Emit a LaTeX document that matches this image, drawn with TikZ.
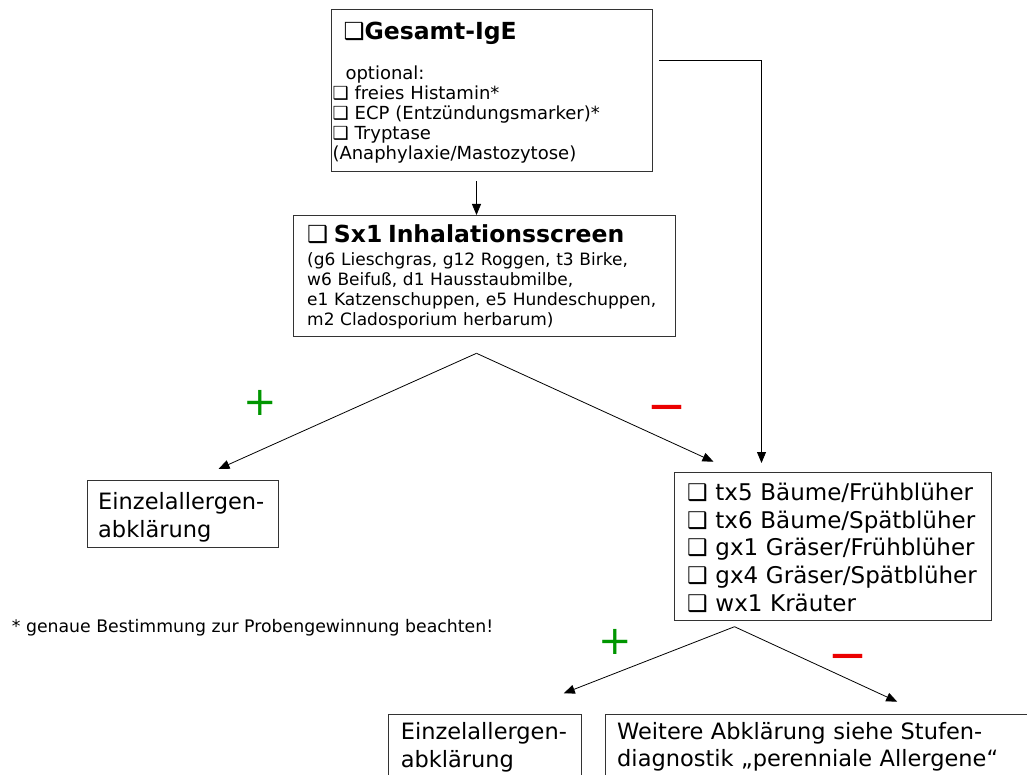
\documentclass[tikz,border=0pt]{standalone}
\usepackage{fontspec}
\setmainfont{DejaVu Sans}
\usepackage{tikz}
\usetikzlibrary{arrows.meta}
\usepackage{xcolor}
\definecolor{plusgreen}{RGB}{0,150,0}
\definecolor{minusred}{RGB}{235,0,0}

% struts that fix the space above the first and below the last line of a box
\newcommand{\boxtop}[1]{\rule{0pt}{#1pt}}
\newcommand{\boxbot}[1]{\rule[-#1pt]{0pt}{#1pt}}

\begin{document}
\begin{tikzpicture}[x=1pt, y=-1pt,
    flowbox/.style={draw=black!80, line width=1pt, rectangle, anchor=north west, align=left, inner ysep=0pt},
    small/.style={font=\fontsize{17}{20}\selectfont},
    large/.style={font=\fontsize{22.5}{27.7}\selectfont},
    arr/.style={-{Triangle[length=11pt,width=9pt]}, line width=0.8pt},
    plussign/.style={text=plusgreen, font=\fontsize{40}{40}\selectfont, inner sep=0pt},
    minussign/.style={text=minusred, font=\fontsize{33}{33}\selectfont\bfseries, inner sep=0pt, anchor=base}]

    \useasboundingbox (0,0) rectangle (1027,775);

    % Draw the boxes
    \node[flowbox, small, font=\fontsize{18}{20}\selectfont, inner xsep=1pt, text width=319pt] (gesamt) at (331,9.3) {%
        \boxtop{29.7}{\fontsize{23.5}{20}\selectfont\bfseries\hspace*{11pt}❑Gesamt-IgE}\\[20.3pt]
        \hspace*{13pt}optional:\\
        ❑ freies Histamin*\\
        ❑ ECP (Entzündungsmarker)*\\
        ❑ Tryptase\\
        (Anaphylaxie/Mastozytose)\boxbot{12}};

    \node[flowbox, small, inner xsep=13.4pt, text width=354.9pt] (sx) at (293.3,215) {%
        \boxtop{27.5}{\fontsize{23.5}{20}\selectfont\bfseries ❑ Sx1 Inhalationsscreen}\\[2.5pt]
        (g6 Lieschgras, g12 Roggen, t3 Birke,\\
        w6 Beifuß, d1 Hausstaubmilbe,\\
        e1 Katzenschuppen, e5 Hundeschuppen,\\
        m2 Cladosporium herbarum)\boxbot{10.7}};

    \node[flowbox, large, inner xsep=11pt, text width=169.3pt] (einzelA) at (86.7,480) {%
        \boxtop{29.3}Einzelallergen-\\
        abklärung\boxbot{10}};

    \node[flowbox, large, font=\fontsize{23}{27.7}\selectfont, inner xsep=12.7pt, text width=291.6pt] (tx) at (674,471.7) {%
        \boxtop{28.3}❑ tx5 Bäume/Frühblüher\\
        ❑ tx6 Bäume/Spätblüher\\
        ❑ gx1 Gräser/Frühblüher\\
        ❑ gx4 Gräser/Spätblüher\\
        ❑ wx1 Kräuter\boxbot{9.2}};

    \node[flowbox, large, inner xsep=12pt, text width=168.7pt] (einzelB) at (388.3,714) {%
        \boxtop{25}Einzelallergen-\\
        abklärung\boxbot{25}};

    \node[flowbox, large, inner xsep=11.7pt, text width=431.6pt] (weitere) at (605,713.5) {%
        \boxtop{25}Weitere Abklärung siehe Stufen-\\
        diagnostik „perenniale Allergene“\boxbot{25}};

    % Footnote
    \node[small, font=\fontsize{17.3}{20}\selectfont, anchor=base west, inner sep=0pt] (footnote) at (11.7,632) {* genaue Bestimmung zur Probengewinnung beachten!};

    % Connect the boxes
    \draw[arr] ([xshift=-15.5pt,yshift=-9pt]gesamt.south) coordinate (gdown) -- (gdown |- sx.north);
    \coordinate (gout) at ([xshift=6pt,yshift=30.3pt]gesamt.east);
    \draw[arr] (gout) -| ([xshift=-71.5pt,yshift=8.7pt]tx.north);

    \coordinate (sxfork) at ([xshift=-8.15pt,yshift=-16.6pt]sx.south);
    \draw[arr] (sxfork) -- ([xshift=35.65pt,yshift=11pt]einzelA.north);
    \draw[arr] (sxfork) -- ([xshift=-119.5pt,yshift=10pt]tx.north);

    \coordinate (txfork) at ([xshift=-98.5pt,yshift=-5.7pt]tx.south);
    \draw[arr] (txfork) -- ([xshift=78.65pt,yshift=20.7pt]einzelB.north);
    \draw[arr] (txfork) -- ([xshift=64.2pt,yshift=11.8pt]weitere.north);

    % Label the branches
    \foreach \pos [count=\i] in {(260,402.7), (615,641.7)}
        \node[plussign] (plus\i) at \pos {+};
    \foreach \pos [count=\i] in {(666.5,416), (848,665.7)}
        \node[minussign] (minus\i) at \pos {—};
\end{tikzpicture}
\end{document}
